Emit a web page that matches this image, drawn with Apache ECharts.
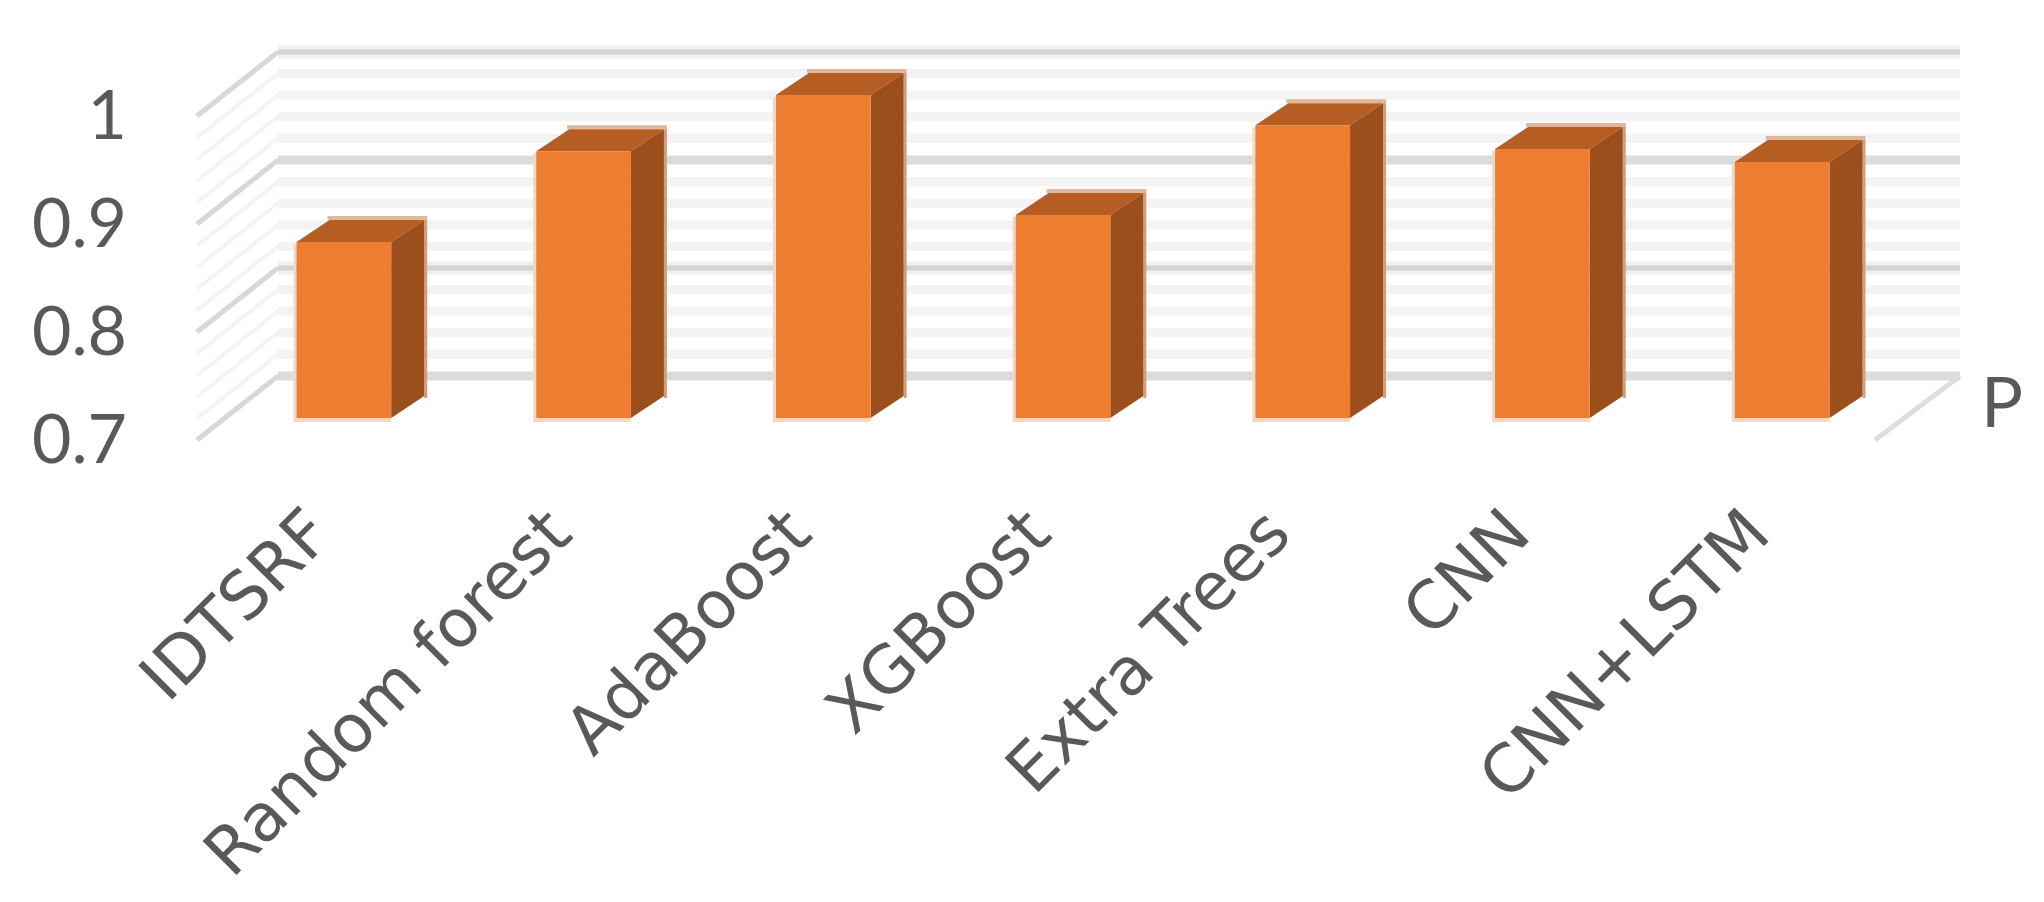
<!DOCTYPE html>
<html>
<head>
<meta charset="utf-8">
<title>P</title>
<style>
  html, body { margin: 0; padding: 0; background: #fff; }
  #chart { width: 2044px; height: 902px; }
</style>
<script src="https://cdn.jsdelivr.net/npm/echarts@6/dist/echarts.min.js"></script>
</head>
<body>
<div id="chart"></div>
<script>
const categories = ['IDTSRF', 'Random forest', 'AdaBoost', 'XGBoost', 'Extra Trees', 'CNN', 'CNN+LSTM']
const seriesName = 'P'
const values = [0.863, 0.947, 0.999, 0.888, 0.971, 0.949, 0.937]
const majorTicks = [0.7, 0.8, 0.9, 1]
const minorTicks = [0.72, 0.74, 0.76, 0.78, 0.82, 0.84, 0.86, 0.88, 0.92, 0.94, 0.96, 0.98]

const labelColor = '#595959'
const labelFont = 'Lato'
const categoryFont = '"DejaVu Sans"'

// fake 3d: the grid is the plane of the bar fronts, walls are shifted from it
const backDx = 54, backDy = 42
const frontDx = 27, frontDy = 22
const backRightExtra = 4
const depthX = 33, depthY = 22

function line(x1, y1, x2, y2, color, width) {
  return {
    type: 'line',
    shape: { x1, y1, x2, y2 },
    style: { stroke: color, lineWidth: width, fill: null }
  }
}

function poly(points, color) {
  return { type: 'polygon', shape: { points }, style: { fill: color } }
}

function renderWall(params, api) {
  const v = api.value(1)
  const y = api.coord([0, v])[1]
  const sys = params.coordSys
  const left = sys.x
  const right = sys.x + sys.width
  const isMajor = majorTicks.includes(v)
  const backY = y - backDy
  const backL = left + backDx
  const backR = right + backDx + backRightExtra
  const frontX = left - frontDx
  const frontY = y + frontDy
  const children = []
  if (!isMajor) {
    children.push(line(backL, backY, backR, backY, '#f3f3f3', 9))
    children.push(line(frontX, frontY, backL, backY, '#f4f4f4', 4))
  } else {
    // 1.0 and 0.8 are thin with a halo, 0.9 and 0.7 are a flat wide band
    if (majorTicks.indexOf(v) % 2 === 1) {
      children.push(line(backL, backY, backR, backY, '#f0f0f0', 13))
      children.push(line(backL, backY, backR, backY, '#d2d2d2', 5))
    } else {
      children.push(line(backL, backY, backR, backY, '#dbdbdb', 9))
    }
    children.push(line(frontX, frontY, backL, backY, '#d8d8d8', 5))
    if (v === majorTicks[0]) {
      children.push(line(right - frontDx, frontY, backR, backY, '#dedede', 5))
    }
  }
  return { type: 'group', children }
}

function renderBar(params, api) {
  const x = api.coord([api.value(0), 0])[0]
  const top = api.coord([0, api.value(1)])[1]
  const base = api.coord([0, 0.7])[1]
  const w = api.size([1, 0])[0] * 0.395
  const l = x - w / 2
  const r = x + w / 2
  const backTop = top - depthY
  const backBase = base - depthY
  return {
    type: 'group',
    children: [
      // soft fringes, pale on the front, tan on the depth edges
      poly([[l - 3, top + 2], [l, top + 2], [l, base], [r, base], [r, base + 4], [l - 3, base + 4]], '#f9d6bf'),
      poly([[l + depthX - 2, backTop - 4], [r + depthX + 3, backTop - 4], [r + depthX + 3, backTop], [l + depthX - 2, backTop]], '#dfb79c'),
      poly([[r + depthX, backTop], [r + depthX + 3, backTop], [r + depthX + 3, backBase + 2], [r + depthX, backBase + 2]], '#cc9f80'),
      poly([[l, top], [l + depthX, backTop], [r + depthX, backTop], [r, top]], '#b55d22'),
      poly([[r, top], [r + depthX, backTop], [r + depthX, backBase], [r, base]], '#9a4f1d'),
      poly([[l, top], [r, top], [r, base], [l, base]], '#ed7d31')
    ]
  }
}

const chart = echarts.init(document.getElementById('chart'))

chart.setOption({
  animation: false,
  backgroundColor: '#fff',
  textStyle: { fontFamily: labelFont },
  grid: { left: 224, top: 94, width: 1678, height: 324, outerBoundsMode: 'none' },
  xAxis: {
    type: 'category',
    data: categories,
    axisLine: { show: false },
    axisTick: { show: false },
    axisLabel: {
      interval: 0,
      rotate: 45,
      margin: 128,
      fontSize: 66,
      color: labelColor,
      fontFamily: categoryFont,
      verticalAlign: 'bottom',
      lineHeight: 60
    }
  },
  yAxis: {
    type: 'value',
    min: 0.7,
    max: 1,
    interval: 0.1,
    axisLine: { show: false },
    axisTick: { show: false },
    splitLine: { show: false },
    axisLabel: {
      margin: 97,
      fontSize: 68,
      color: labelColor,
      fontFamily: labelFont,
      verticalAlign: 'top',
      lineHeight: 46,
      formatter: v => (v === 1 ? '1' : v.toFixed(1))
    }
  },
  graphic: [{
    type: 'text',
    left: 1981,
    top: 369,
    style: { text: seriesName, font: '70px ' + labelFont, fill: labelColor }
  }],
  series: [
    {
      type: 'custom',
      name: 'minor',
      clip: false,
      silent: true,
      z: 1,
      renderItem: renderWall,
      encode: { x: 0, y: 1 },
      data: minorTicks.map(v => [0, v])
    },
    {
      type: 'custom',
      name: 'major',
      clip: false,
      silent: true,
      z: 2,
      renderItem: renderWall,
      encode: { x: 0, y: 1 },
      data: majorTicks.map(v => [0, v])
    },
    {
      type: 'custom',
      name: seriesName,
      clip: false,
      z: 3,
      renderItem: renderBar,
      encode: { x: 0, y: 1 },
      data: values.map((v, i) => [i, v])
    }
  ]
})
</script>
</body>
</html>
